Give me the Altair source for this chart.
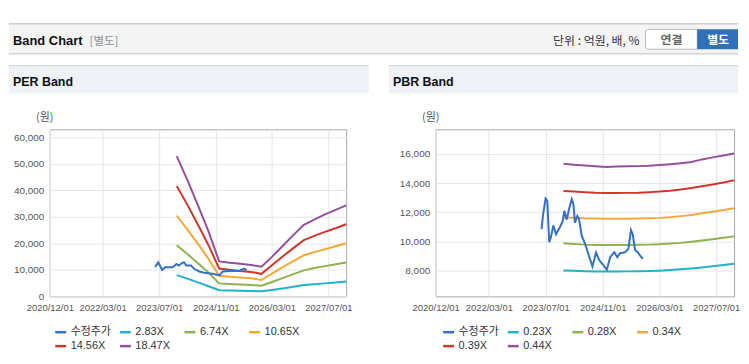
import altair as alt
import pandas as pd

# ---------------- data ----------------
band_dates = ["2023-12-01", "2024-03-01", "2024-06-01", "2024-09-01", "2024-12-01",
              "2025-03-01", "2025-06-01", "2025-09-01", "2025-12-01", "2026-03-01",
              "2026-06-01", "2026-09-01", "2026-12-01", "2027-03-01", "2027-06-01",
              "2027-09-01", "2027-12-01"]

per_labels = ["수정주가", "2.83X", "6.74X", "10.65X", "14.56X", "18.47X"]
per_price_dates = ["2023-05-28", "2023-06-25", "2023-07-28", "2023-08-25", "2023-10-28",
                   "2023-11-28", "2023-12-18", "2024-01-10", "2024-02-01", "2024-02-22",
                   "2024-04-03", "2024-05-01", "2024-06-12", "2024-07-25", "2024-10-06",
                   "2024-12-03", "2025-01-01", "2025-02-28", "2025-05-22", "2025-07-04",
                   "2025-07-25"]
per_price = [11100, 12800, 10000, 11000, 11000, 12200, 11600, 12400, 12900, 11600,
             11600, 10300, 9400, 8900, 8500, 7900, 9400, 9600, 9600, 10500, 9900]
per_283 = [8000, 6700, 5300, 3800, 2300, 2200, 2100, 2000, 1900, 2400, 3000, 3600,
           4300, 4600, 4900, 5200, 5600]
per_674 = [19300, 16000, 12500, 8900, 4900, 4700, 4500, 4300, 4000, 5400, 6900, 8400,
           9800, 10700, 11400, 12100, 12800]
per_1065 = [30500, 25300, 19800, 14100, 7800, 7400, 7100, 6800, 6200, 8600, 11000, 13300,
            15500, 16700, 17800, 18900, 20000]
per_1456 = [41600, 34600, 27000, 19200, 10500, 10000, 9600, 9200, 8500, 11700, 15000,
            18200, 21200, 22800, 24300, 25700, 27200]
per_1847 = [52900, 43900, 34300, 24400, 13200, 12700, 12300, 11800, 11200, 14900, 19000,
            23100, 27000, 28900, 30900, 32600, 34300]

pbr_labels = ["수정주가", "0.23X", "0.28X", "0.34X", "0.39X", "0.44X"]
pbr_price_dates = ["2023-05-27", "2023-06-10", "2023-07-01", "2023-07-15", "2023-08-01",
                   "2023-08-15", "2023-09-05", "2023-09-28", "2023-11-01", "2023-11-24",
                   "2023-12-08", "2023-12-28", "2024-01-20", "2024-02-10", "2024-02-24",
                   "2024-03-08", "2024-03-28", "2024-04-12", "2024-05-05", "2024-06-03",
                   "2024-07-01", "2024-08-05", "2024-09-05", "2024-10-01", "2024-11-02",
                   "2024-12-06", "2025-01-04", "2025-02-08", "2025-03-06", "2025-03-29",
                   "2025-05-11", "2025-06-09", "2025-07-01", "2025-07-16", "2025-08-05",
                   "2025-08-28", "2025-09-18", "2025-10-10"]
pbr_price = [10850, 11900, 12950, 12800, 9950, 10300, 11100, 10500, 11000, 11400,
             12100, 11500, 12300, 12900, 12550, 11300, 11750, 11550, 10400, 9850,
             9150, 8300, 9250, 8750, 8430, 8070, 8930, 9270, 8930, 9200,
             9270, 9500, 10790, 10500, 9430, 9270, 9040, 8815]
pbr_023 = [8020, 8000, 7970, 7955, 7950, 7950, 7960, 7970, 7980, 8010, 8050, 8100,
           8160, 8230, 8310, 8390, 8475]
pbr_028 = [9880, 9840, 9790, 9770, 9760, 9760, 9770, 9780, 9790, 9820, 9860, 9910,
           9980, 10070, 10160, 10260, 10355]
pbr_034 = [11650, 11630, 11590, 11570, 11560, 11560, 11560, 11570, 11590, 11620, 11670,
           11740, 11820, 11930, 12040, 12160, 12280]
pbr_039 = [13460, 13430, 13380, 13340, 13320, 13320, 13330, 13340, 13380, 13420, 13480,
           13560, 13660, 13780, 13910, 14040, 14190]
pbr_044 = [15320, 15250, 15200, 15150, 15100, 15130, 15150, 15160, 15180, 15230, 15290,
           15360, 15440, 15620, 15760, 15890, 16020]

per_y_ticks = [0, 10000, 20000, 30000, 40000, 50000, 60000]
pbr_y_ticks = [8000, 10000, 12000, 14000, 16000]
x_tick_dates = [(2020, 12), (2022, 3), (2023, 7), (2024, 11), (2026, 3), (2027, 7)]

colors = ["#3370c6", "#20b2c8", "#8db34e", "#f4a83a", "#d0362c", "#964f9c"]

LATIN = "Liberation Sans, Arial, Noto Sans CJK KR, sans-serif"
KR = "Noto Sans CJK KR, sans-serif"


def build_df(price_dates, price_vals, labels, bands):
    rows = []
    for lab, vals in zip(labels[1:], bands):
        for d, v in zip(band_dates, vals):
            rows.append({"date": d, "value": v, "series": lab, "kind": "band"})
    for d, v in zip(price_dates, price_vals):
        rows.append({"date": d, "value": v, "series": labels[0], "kind": "price"})
    return pd.DataFrame(rows)


per_df = build_df(per_price_dates, per_price, per_labels,
                  [per_283, per_674, per_1065, per_1456, per_1847])
pbr_df = build_df(pbr_price_dates, pbr_price, pbr_labels,
                  [pbr_023, pbr_028, pbr_034, pbr_039, pbr_044])

one = pd.DataFrame({"k": [0]})


def dt(y, m):
    return alt.DateTime(year=y, month=m, date=1, utc=True)


def rect(x, x2, y, y2, **kw):
    return alt.Chart(one).mark_rect(**kw).encode(
        x=alt.value(x), x2=alt.value(x2), y=alt.value(y), y2=alt.value(y2))


def hline(x, x2, y, color):
    return alt.Chart(one).mark_rule(color=color, strokeWidth=1).encode(
        x=alt.value(x), x2=alt.value(x2), y=alt.value(y))


def text(x, y, s, **kw):
    return alt.Chart(one).mark_text(text=s, **kw).encode(x=alt.value(x), y=alt.value(y))


def panel(df, labels, ydomain, yticks, title, hx0, hx1, unit_x, legend_x):
    xenc = alt.X("date:T",
                 scale=alt.Scale(type="utc", domain=[dt(2020, 12), dt(2027, 12)]),
                 axis=alt.Axis(values=[dt(y, m) for y, m in x_tick_dates],
                               format="%Y/%m/%d", title=None, labelPadding=6,
                               labelFontSize=9.5, labelFont=LATIN, labelColor="#555",
                               gridColor="#e6e6e6", domain=False, ticks=False,
                               labelOverlap=False, labelFlush=False))
    yenc = alt.Y("value:Q",
                 scale=alt.Scale(domain=ydomain, nice=False, zero=False),
                 axis=alt.Axis(values=yticks, format=",.0f", title=None, labelPadding=6,
                               labelFontSize=10, labelFont=LATIN, labelColor="#555",
                               gridColor="#e6e6e6", domain=False, ticks=False))
    cenc = alt.Color("series:N",
                     scale=alt.Scale(domain=labels, range=colors),
                     legend=alt.Legend(orient="none", legendX=legend_x, legendY=197,
                                       direction="horizontal", columns=4,
                                       gridAlign="all", columnPadding=3, rowPadding=2,
                                       symbolType="stroke", symbolSize=121,
                                       symbolStrokeWidth=2.5, labelFontSize=11,
                                       labelFont=LATIN, labelColor="#333",
                                       labelOffset=3, padding=0, title=None))
    bands = alt.Chart(df).transform_filter(alt.datum.kind == "band").mark_line(
        strokeWidth=2).encode(x=xenc, y=yenc, color=cenc)
    price = alt.Chart(df).transform_filter(alt.datum.kind == "price").mark_line(
        strokeWidth=2).encode(x=xenc, y=yenc, color=cenc)
    deco = [
        rect(hx0, hx1, -64, -36, fill="#eef1f6"),
        hline(hx0, hx1, -64, "#d4d4d4"),
        text(hx0 + 4, -44, title, align="left", baseline="alphabetic", font=LATIN,
             fontSize=12.5, fontWeight="bold", color="#111"),
        text(unit_x, -11, "(원)", align="center", baseline="middle", font=KR,
             fontSize=11, color="#555"),
    ]
    return deco, bands, price


# page x 8..741 is the drawable width; PER plot origin at page (49,128), PBR at (437,128)
per_deco, per_bands, per_price_l = panel(per_df, per_labels, [0, 63000], per_y_ticks,
                                         "PER Band", -41, 321, -5, 4)
pbr_deco, pbr_bands, pbr_price_l = panel(pbr_df, pbr_labels, [6250, 17680], pbr_y_ticks,
                                         "PBR Band", -47, 304, -5, 6)

R = 692  # right edge (page x 741) in PER coordinates
top = [
    rect(-41, R, -120, 226, fill="#ffffff", opacity=0),
    rect(-41, R, -106, -76, fill="#f4f4f4"),
    hline(-41, R, -106, "#b4b4b4"),
    hline(-41, R, -76, "#cdcdcd"),
    hline(-41, R, -75, "#e8e8e8"),
    text(-37, -85, "Band Chart", align="left", baseline="alphabetic", font=LATIN,
         fontSize=13, fontWeight="bold", color="#111"),
    text(40, -85, "[별도]", align="left", baseline="alphabetic", font=KR,
         fontSize=11.5, color="#8b929a"),
    text(593, -85, "단위 : 억원, 배, %", align="right", baseline="alphabetic", font=KR,
         fontSize=12, color="#333"),
    rect(599, 651, -100.5, -80.5, fill="#ffffff", stroke="#b8b8b8", strokeWidth=1,
         cornerRadiusTopLeft=3, cornerRadiusBottomLeft=3),
    rect(651, R, -100.5, -80.5, fill="#2f70b9"),
    text(625, -90, "연결", align="center", baseline="middle", font=KR, fontSize=12,
         fontWeight="bold", color="#666"),
    text(672, -90, "별도", align="center", baseline="middle", font=KR, fontSize=12,
         fontWeight="bold", color="#ffffff"),
]

per_chart = alt.layer(*top, *per_deco, per_bands, per_price_l).properties(
    width=298, height=168)
pbr_chart = alt.layer(*pbr_deco, pbr_bands, pbr_price_l).properties(
    width=300, height=168)

chart = alt.hconcat(per_chart, pbr_chart, spacing=90, bounds="flush").resolve_scale(
    x="independent", y="independent", color="independent"
).resolve_legend(color="independent").properties(padding=0).configure_view(
    stroke="#a8a8a8", strokeWidth=1)

chart.save("out.html", embed_options={"renderer": "svg", "actions": False})
